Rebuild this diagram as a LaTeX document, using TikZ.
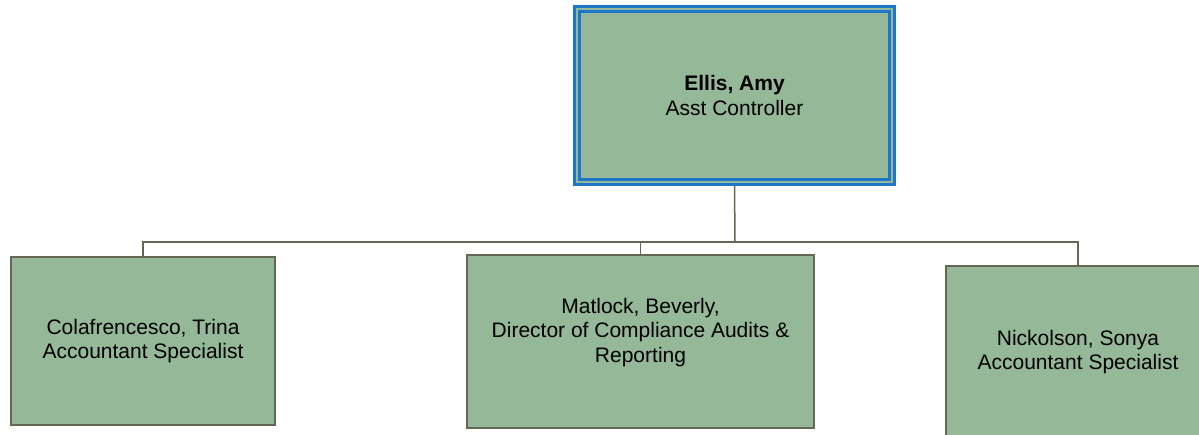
\documentclass[tikz,border=0pt]{standalone}
\usepackage{fontspec}
\setmainfont{Liberation Sans}
\definecolor{boxgreen}{RGB}{148,184,152}
\definecolor{edgegrey}{RGB}{102,102,84}
\definecolor{headblue}{RGB}{30,118,200}
\tikzset{
  person/.style={rectangle,fill=boxgreen,draw=edgegrey,line width=1.5pt,inner sep=0pt,outer sep=0pt,
    align=center,font=\fontsize{21}{24.5}\selectfont},
  head/.style={person,draw=headblue,line width=2.7pt,double=boxgreen,double distance=2.3pt,outer sep=4pt},
  link/.style={draw=edgegrey,line width=1.5pt}
}
\begin{document}
\begin{tikzpicture}[x=1pt,y=-1pt]
\useasboundingbox (0,0) rectangle (1199,435);
%\draw[step=50,gray,very thin] (0,0) grid (1199,435); %background grid

\node[head,minimum width=315pt,minimum height=173pt] (ellis) at (734.5,95.5) {\textbf{Ellis, Amy}\\Asst Controller};

\node[person,minimum width=264pt,minimum height=168pt] (colafrencesco) at (143,341) {Colafrencesco, Trina\\Accountant Specialist};
\node[person,minimum width=347pt,minimum height=173pt,
  label={[font=\fontsize{21}{24.5}\selectfont,align=center,yshift=9pt]center:Matlock, Beverly,\\Director of Compliance Audits \&\\Reporting}] (matlock) at (640.5,341.5) {};
% box runs off the page at right and bottom
\node[person,minimum width=264pt,minimum height=180pt,text depth=12pt] (nickolson) at (1078,356) {Nickolson, Sonya\\Accountant Specialist};

\coordinate (bus) at (735,242);
\draw[link] (ellis.south) -- (bus);
\draw[link] (colafrencesco.north) |- (bus) -| (nickolson.north);
\draw[link] (matlock.north) -- (matlock.north |- bus);
\end{tikzpicture}
\end{document}
